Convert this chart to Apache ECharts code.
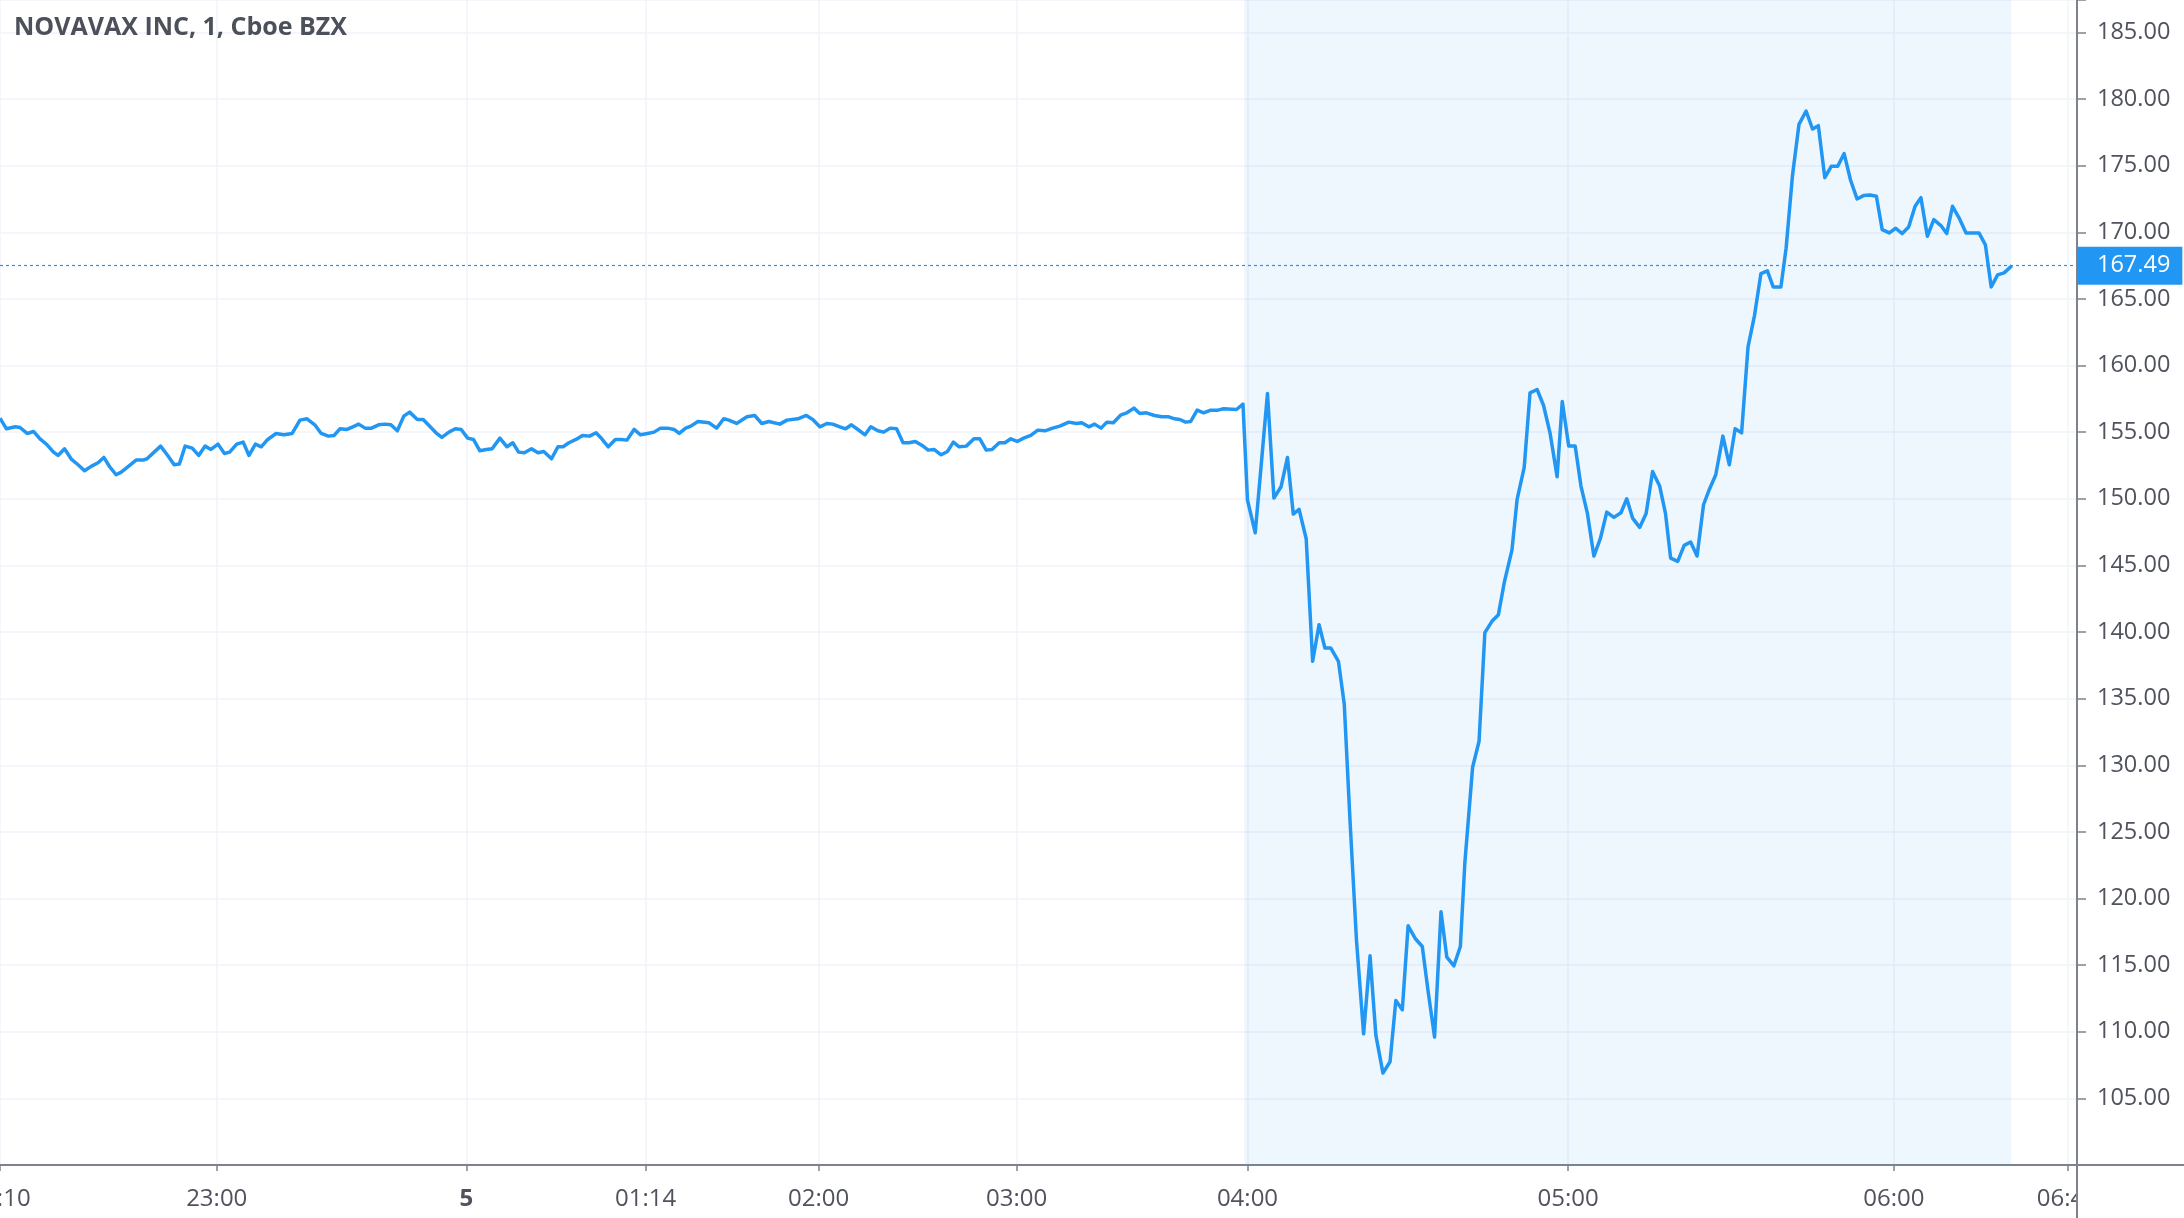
<!DOCTYPE html>
<html><head><meta charset="utf-8">
<script src="https://cdn.jsdelivr.net/npm/echarts@6/dist/echarts.min.js"></script>
<style>html,body{margin:0;padding:0;background:#fff}#c{width:2184px;height:1218px}</style>
</head><body><div id="c"></div>
<script>
const titleText = 'NOVAVAX INC, 1, Cboe BZX';
// bar position (1-minute bars, gaps removed) and close price
const barPos = [
0.0,1.0,2.4,3.1,4.2,5.2,6.2,7.3,8.3,9.0,
10.0,11.1,12.1,13.1,14.2,15.2,16.1,17.0,18.0,18.8,
20.1,21.1,22.2,22.8,23.9,24.9,26.0,27.0,27.8,28.7,
29.8,30.8,31.8,32.7,33.8,34.8,35.6,36.7,37.7,38.6,
39.6,40.5,41.5,42.8,44.0,45.3,46.5,47.6,48.8,49.8,
50.9,51.8,52.7,53.8,54.7,55.6,56.6,57.6,58.7,59.7,
60.6,61.6,62.6,63.5,64.7,65.6,66.7,67.7,68.5,69.6,
70.6,71.5,72.5,73.4,74.4,75.4,76.3,77.5,78.6,79.5,
80.4,81.3,82.4,83.4,84.3,85.5,86.5,87.3,88.2,89.3,
90.3,91.4,92.4,93.3,94.3,95.4,96.3,97.2,98.3,99.3,
100.4,101.4,102.4,103.5,104.5,105.3,
106.3,107.1,108.2,109.9,111.1,112.2,113.0,114.2,115.8,117.0,
118.1,119.2,120.9,122.0,123.7,125.0,126.0,127.1,128.2,129.1,
130.2,131.1,132.0,133.0,134.1,135.0,136.1,137.0,138.0,139.0,
140.0,140.9,141.9,143.1,143.9,144.8,145.9,146.9,147.8,148.7,
149.8,151.0,151.9,152.9,153.8,154.9,155.8,156.7,157.7,158.7,
159.8,160.9,162.0,163.2,164.3,165.7,166.9,167.7,168.8,169.7,
170.7,171.6,172.6,173.8,174.7,175.8,176.7,177.7,179.0,180.1,
181.2,182.1,182.9,183.8,184.6,185.6,186.6,187.7,188.8,189.7,
191.7,192.7,
193.4,194.6,196.5,197.5,198.6,199.6,200.5,201.4,202.5,203.5,
204.5,205.4,206.3,207.5,208.4,209.3,210.3,211.4,212.4,213.3,
214.4,215.5,216.4,217.4,218.3,219.4,220.5,221.4,222.4,223.4,
224.3,225.4,226.4,227.1,228.3,229.3,230.2,231.3,232.3,233.2,
234.4,235.2,236.3,237.2,238.3,239.3,240.3,241.4,242.2,243.2,
244.2,245.1,246.1,247.1,248.1,249.1,250.2,251.3,252.2,253.1,
254.2,255.2,256.2,257.3,258.2,
259.0,260.1,261.1,262.1,263.1,264.1,265.0,266.0,267.1,268.1,
269.0,270.0,271.0,272.0,273.0,274.0,274.9,276.1,276.9,277.9,
278.9,280.0,281.0,281.9,282.9,283.9,284.9,285.9,286.9,287.9,
288.9,289.9,290.9,291.8,292.9,293.9,294.9,295.9,296.9,297.8,
298.8,299.8,300.9,301.8,302.7,303.8,304.8,305.8,306.8,307.8,
308.7,309.7,310.7,311.9
];
const price = [
156.05,155.25,155.4,155.35,154.9,155.05,154.5,154.05,153.5,153.25,
153.75,152.95,152.55,152.1,152.45,152.7,153.1,152.4,151.8,152.0,
152.5,152.9,152.9,153.0,153.5,153.95,153.25,152.55,152.6,153.95,
153.8,153.25,153.95,153.7,154.1,153.4,153.5,154.1,154.25,153.25,
154.1,153.9,154.45,154.9,154.8,154.9,155.9,156.0,155.55,154.9,
154.7,154.75,155.25,155.2,155.4,155.6,155.3,155.3,155.55,155.6,
155.55,155.1,156.2,156.5,155.95,155.95,155.4,154.9,154.6,155.0,
155.25,155.2,154.55,154.45,153.6,153.7,153.75,154.55,153.9,154.2,
153.5,153.45,153.75,153.45,153.55,153.0,153.9,153.9,154.2,154.45,
154.75,154.7,154.95,154.5,153.9,154.45,154.45,154.4,155.2,154.8,
154.9,155.0,155.3,155.3,155.2,154.9,
155.3,155.45,155.8,155.7,155.3,156.0,155.9,155.65,156.15,156.25,
155.65,155.8,155.6,155.9,156.0,156.25,155.95,155.4,155.65,155.6,
155.4,155.25,155.55,155.2,154.8,155.4,155.1,155.0,155.3,155.25,
154.2,154.2,154.3,153.95,153.65,153.7,153.3,153.55,154.25,153.9,
153.95,154.5,154.5,153.65,153.7,154.2,154.2,154.5,154.3,154.55,
154.75,155.15,155.1,155.3,155.45,155.75,155.65,155.7,155.4,155.6,
155.3,155.75,155.7,156.3,156.45,156.8,156.4,156.45,156.25,156.15,
156.15,156.0,155.95,155.75,155.8,156.65,156.45,156.65,156.65,156.75,
156.7,157.1,
149.9,147.45,157.9,150.05,150.9,153.1,148.85,149.2,147.0,137.8,
140.55,138.8,138.8,137.8,134.6,125.8,116.85,109.85,115.7,109.75,
106.9,107.75,112.35,111.65,117.95,117.0,116.4,113.05,109.6,119.0,
115.6,114.95,116.4,122.7,129.85,131.8,139.95,140.8,141.3,143.7,
146.15,149.95,152.35,157.95,158.2,157.0,154.95,151.65,157.3,153.95,
153.95,150.95,148.9,145.7,147.0,149.0,148.6,148.95,150.0,148.55,
147.85,148.9,152.05,150.95,148.9,
145.55,145.3,146.5,146.75,145.7,149.55,150.7,151.8,154.7,152.55,
155.25,154.95,161.4,163.75,166.9,167.1,165.9,165.9,168.8,174.3,
178.1,179.1,177.75,178.0,174.1,174.95,174.95,175.9,173.9,172.5,
172.75,172.8,172.7,170.2,169.95,170.3,169.9,170.4,171.95,172.6,
169.7,170.95,170.5,169.9,171.95,171.0,169.95,169.95,169.95,169.05,
165.9,166.8,166.95,167.49
];
const tickPos = [0, 33.6, 72.3, 100.1, 126.9, 157.6, 193.4, 243.1, 293.6, 320.5];
const tickLabels = ['22:10', '23:00', '5', '01:14', '02:00', '03:00', '04:00', '05:00', '06:00', '06:40'];
const boldTick = '5';
const lastPrice = 167.49;
const sessionStart = 192.9, sessionEnd = 311.8;
const xMin = 0, xMax = 322.0;
const yMin = 100, yMax = 187.43, yStep = 5;

const FONT = 'Open Sans';
const TXT = '#50535e';
const AXIS = '#7f828c';
const GRIDC = '#f0f3fa';
const BLUE = '#2196f3';

const chart = echarts.init(document.getElementById('c'), null, {renderer: 'canvas'});
chart.setOption({
  animation: false,
  backgroundColor: '#ffffff',
  title: {
    text: titleText, left: 9, top: 10,
    textStyle: {fontFamily: FONT, fontSize: 25, fontWeight: 'bold', color: '#4c505b'}
  },
  grid: {left: 0, right: 107, top: 0, bottom: 53, containLabel: false, outerBoundsMode: 'none'},
  xAxis: {
    type: 'value', min: xMin, max: xMax, position: 'bottom',
    axisLine: {show: true, onZero: false, lineStyle: {color: AXIS, width: 2}},
    axisTick: {show: true, length: 6, customValues: tickPos, lineStyle: {color: AXIS, width: 1.5}},
    splitLine: {show: true, lineStyle: {color: GRIDC, width: 1.5}},
    axisLabel: {
      customValues: tickPos, margin: 22, fontFamily: FONT, fontSize: 24, color: TXT,
      formatter: function (v) {
        const i = tickPos.findIndex(p => Math.abs(p - v) < 1e-6);
        const t = i >= 0 ? tickLabels[i] : '';
        return t === boldTick ? '{b|' + t + '}' : t;
      },
      rich: {b: {fontFamily: FONT, fontSize: 24, fontWeight: 'bold', color: TXT}}
    }
  },
  yAxis: {
    type: 'value', position: 'right', min: yMin, max: yMax, interval: yStep,
    axisLine: {show: true, onZero: false, lineStyle: {color: AXIS, width: 2}},
    axisTick: {show: true, length: 9, lineStyle: {color: AXIS, width: 1.5}},
    splitLine: {show: true, lineStyle: {color: GRIDC, width: 1.5}},
    axisLabel: {
      margin: 20, fontFamily: FONT, fontSize: 23.5, color: TXT,
      formatter: function (v) {
        return (v > yMin + 0.5 && v < yMax - 0.5 && Math.abs(v % yStep) < 1e-6) ? v.toFixed(2) : '';
      }
    }
  },
  series: [{
    type: 'line',
    data: barPos.map((x, i) => [x, price[i]]),
    symbol: 'none', showSymbol: false, clip: true,
    lineStyle: {color: BLUE, width: 3.5, join: 'round'},
    markArea: {
      silent: true,
      itemStyle: {color: 'rgba(33,150,243,0.08)'},
      data: [[{xAxis: sessionStart}, {xAxis: sessionEnd}]]
    },
    markLine: {
      silent: true, symbol: ['none', 'none'],
      lineStyle: {color: BLUE, type: [3, 3], width: 1.2},
      label: {
        show: true, position: 'end', distance: 0,
        formatter: () => lastPrice.toFixed(2),
        backgroundColor: BLUE, color: '#ffffff',
        fontFamily: FONT, fontSize: 23.5, fontWeight: 500,
        padding: [6, 12, 6, 20], lineHeight: 26
      },
      data: [{yAxis: lastPrice}]
    }
  }],
  graphic: [
    {type: 'rect', z: 100, shape: {x: 2078, y: 1166, width: 106, height: 52}, style: {fill: '#ffffff'}},
    {type: 'line', z: 101, shape: {x1: 2077, y1: 1165, x2: 2077, y2: 1218}, style: {stroke: AXIS, lineWidth: 2}},
    {type: 'line', z: 101, shape: {x1: 2077, y1: 1165, x2: 2184, y2: 1165}, style: {stroke: AXIS, lineWidth: 2}}
  ]
});
</script></body></html>
